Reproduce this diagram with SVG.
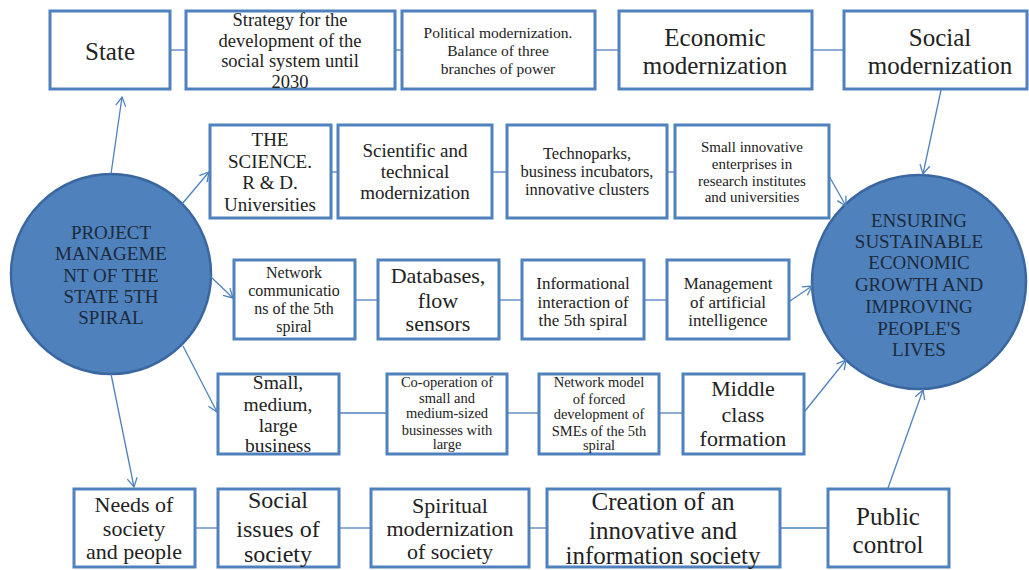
<svg xmlns="http://www.w3.org/2000/svg" width="1029" height="570" viewBox="0 0 1029 570">
<style>
.box{fill:#fff;stroke:#4F81BD;stroke-width:3}
.circ{fill:#4F81BD;stroke:#3A67A0;stroke-width:2.5}
.t{font-family:'Liberation Serif','Tinos','Times New Roman','DejaVu Serif','Noto Serif',serif;fill:#222;text-anchor:middle}
.ct{font-family:'Liberation Serif','Tinos','Times New Roman','DejaVu Serif','Noto Serif',serif;fill:#1c2a3a;text-anchor:middle;font-size:19px}
.ln{stroke:#4F81BD;stroke-width:1.3;fill:none}
.ar{stroke:#4F81BD;stroke-width:1.3;fill:none;marker-end:url(#ah)}
</style>
<defs>
<marker id="ah" markerUnits="userSpaceOnUse" markerWidth="14" markerHeight="14" refX="10" refY="6" orient="auto">
<path d="M1,1 L10,6 L1,11" fill="none" stroke="#4F81BD" stroke-width="1.3"/>
</marker>
</defs>

<g id="n-state"><rect class="box" x="50" y="11" width="120" height="78"/>
<text class="t" font-size="25" x="110" y="60">State</text></g>

<g id="n-strategy"><rect class="box" x="186" y="11" width="209" height="78"/>
<text class="t" font-size="18.5" x="290" y="26">Strategy for the</text>
<text class="t" font-size="18.5" x="290" y="47">development of the</text>
<text class="t" font-size="18.5" x="290" y="67">social system until</text>
<text class="t" font-size="18.5" x="290" y="88">2030</text></g>

<g id="n-political"><rect class="box" x="402" y="11" width="193" height="78"/>
<text class="t" font-size="15.5" x="498" y="38">Political modernization.</text>
<text class="t" font-size="15.5" x="498" y="56">Balance of three</text>
<text class="t" font-size="15.5" x="498" y="74">branches of power</text></g>

<g id="n-economic"><rect class="box" x="619" y="11" width="193" height="78"/>
<text class="t" font-size="25" x="715" y="46">Economic</text>
<text class="t" font-size="25" x="715" y="74">modernization</text></g>

<g id="n-social"><rect class="box" x="844" y="11" width="183" height="78"/>
<text class="t" font-size="25" x="940" y="46">Social</text>
<text class="t" font-size="25" x="940" y="74">modernization</text></g>

<g id="n-science"><rect class="box" x="210" y="125" width="121" height="93"/>
<text class="t" font-size="19" x="270" y="146">THE</text>
<text class="t" font-size="19" x="270" y="168">SCIENCE.</text>
<text class="t" font-size="19" x="270" y="189">R &amp; D.</text>
<text class="t" font-size="19" x="270" y="211">Universities</text></g>

<g id="n-scitech"><rect class="box" x="338" y="125" width="154" height="93"/>
<text class="t" font-size="19" x="415" y="157">Scientific and</text>
<text class="t" font-size="19" x="415" y="178">technical</text>
<text class="t" font-size="19" x="415" y="199">modernization</text></g>

<g id="n-techno"><rect class="box" x="507" y="125" width="160" height="93"/>
<text class="t" font-size="16.5" x="587" y="159">Technoparks,</text>
<text class="t" font-size="16.5" x="587" y="177">business incubators,</text>
<text class="t" font-size="16.5" x="587" y="195">innovative clusters</text></g>

<g id="n-smallinnov"><rect class="box" x="675" y="125" width="154" height="93"/>
<text class="t" font-size="15" x="752" y="152">Small innovative</text>
<text class="t" font-size="15" x="752" y="169">enterprises in</text>
<text class="t" font-size="15" x="752" y="186">research institutes</text>
<text class="t" font-size="15" x="752" y="202">and universities</text></g>

<g id="n-netcomm"><rect class="box" x="234" y="260" width="121" height="79"/>
<text class="t" font-size="16" x="294" y="278">Network</text>
<text class="t" font-size="16" x="294" y="296">communicatio</text>
<text class="t" font-size="16" x="294" y="314">ns of the 5th</text>
<text class="t" font-size="16" x="294" y="332">spiral</text></g>

<g id="n-databases"><rect class="box" x="378" y="260" width="121" height="79"/>
<text class="t" font-size="22" x="438" y="283">Databases,</text>
<text class="t" font-size="22" x="438" y="308">flow</text>
<text class="t" font-size="22" x="438" y="331">sensors</text></g>

<g id="n-inform"><rect class="box" x="522" y="260" width="122" height="79"/>
<text class="t" font-size="17" x="583" y="289">Informational</text>
<text class="t" font-size="17" x="583" y="308">interaction of</text>
<text class="t" font-size="17" x="583" y="326">the 5th spiral</text></g>

<g id="n-ai"><rect class="box" x="667" y="260" width="122" height="79"/>
<text class="t" font-size="17" x="728" y="289">Management</text>
<text class="t" font-size="17" x="728" y="308">of artificial</text>
<text class="t" font-size="17" x="728" y="326">intelligence</text></g>

<g id="n-business"><rect class="box" x="218" y="374" width="121" height="80"/>
<text class="t" font-size="19.5" x="278" y="389">Small,</text>
<text class="t" font-size="19.5" x="278" y="411">medium,</text>
<text class="t" font-size="19.5" x="278" y="432">large</text>
<text class="t" font-size="19.5" x="278" y="452">business</text></g>

<g id="n-coop"><rect class="box" x="387" y="374" width="120" height="80"/>
<text class="t" font-size="14.5" x="447" y="387">Co-operation of</text>
<text class="t" font-size="14.5" x="447" y="403">small and</text>
<text class="t" font-size="14.5" x="447" y="418">medium-sized</text>
<text class="t" font-size="14.5" x="447" y="435">businesses with</text>
<text class="t" font-size="14.5" x="447" y="449">large</text></g>

<g id="n-netmodel"><rect class="box" x="539" y="374" width="120" height="80"/>
<text class="t" font-size="14.5" x="599" y="387">Network model</text>
<text class="t" font-size="14.5" x="599" y="404">of forced</text>
<text class="t" font-size="14.5" x="599" y="419">development of</text>
<text class="t" font-size="14.5" x="599" y="436">SMEs of the 5th</text>
<text class="t" font-size="14.5" x="599" y="450">spiral</text></g>

<g id="n-middle"><rect class="box" x="683" y="374" width="121" height="80"/>
<text class="t" font-size="22" x="743" y="396">Middle</text>
<text class="t" font-size="22" x="743" y="422">class</text>
<text class="t" font-size="22" x="743" y="446">formation</text></g>

<g id="n-needs"><rect class="box" x="74" y="489" width="121" height="78"/>
<text class="t" font-size="22" x="134" y="512">Needs of</text>
<text class="t" font-size="22" x="134" y="536">society</text>
<text class="t" font-size="22" x="134" y="559">and people</text></g>

<g id="n-issues"><rect class="box" x="218" y="489" width="121" height="78"/>
<text class="t" font-size="24" x="278" y="508">Social</text>
<text class="t" font-size="24" x="278" y="537">issues of</text>
<text class="t" font-size="24" x="278" y="562">society</text></g>

<g id="n-spiritual"><rect class="box" x="371" y="489" width="158" height="78"/>
<text class="t" font-size="22" x="450" y="513">Spiritual</text>
<text class="t" font-size="22" x="450" y="536">modernization</text>
<text class="t" font-size="22" x="450" y="559">of society</text></g>

<g id="n-creation"><rect class="box" x="547" y="489" width="233" height="78"/>
<text class="t" font-size="25" x="663" y="510">Creation of an</text>
<text class="t" font-size="25" x="663" y="539">innovative and</text>
<text class="t" font-size="25" x="663" y="564">information society</text></g>

<g id="n-public"><rect class="box" x="828" y="489" width="121" height="78"/>
<text class="t" font-size="25" x="888" y="525">Public</text>
<text class="t" font-size="25" x="888" y="553">control</text></g>

<g id="n-project"><circle class="circ" cx="111" cy="274" r="100"/>
<text class="ct" x="111" y="239">PROJECT</text>
<text class="ct" x="111" y="260">MANAGEME</text>
<text class="ct" x="111" y="282">NT OF THE</text>
<text class="ct" x="111" y="303">STATE 5TH</text>
<text class="ct" x="111" y="324">SPIRAL</text></g>

<g id="n-ensuring"><circle class="circ" cx="919" cy="282" r="107"/>
<text class="ct" x="919" y="227">ENSURING</text>
<text class="ct" x="919" y="248">SUSTAINABLE</text>
<text class="ct" x="919" y="269">ECONOMIC</text>
<text class="ct" x="919" y="291">GROWTH AND</text>
<text class="ct" x="919" y="313">IMPROVING</text>
<text class="ct" x="919" y="335">PEOPLE'S</text>
<text class="ct" x="919" y="356">LIVES</text></g>

<g id="connectors">
<line class="ln" x1="171" y1="50" x2="185" y2="50"/>
<line class="ln" x1="396" y1="50" x2="401" y2="50"/>
<line class="ln" x1="596" y1="50" x2="618" y2="50"/>
<line class="ln" x1="813" y1="50" x2="843" y2="50"/>
<line class="ln" x1="332" y1="172" x2="337" y2="172"/>
<line class="ln" x1="493" y1="172" x2="506" y2="172"/>
<line class="ln" x1="668" y1="172" x2="674" y2="172"/>
<line class="ln" x1="356" y1="300" x2="377" y2="300"/>
<line class="ln" x1="500" y1="300" x2="521" y2="300"/>
<line class="ln" x1="645" y1="300" x2="666" y2="300"/>
<line class="ln" x1="340" y1="413" x2="386" y2="413"/>
<line class="ln" x1="508" y1="413" x2="538" y2="413"/>
<line class="ln" x1="660" y1="413" x2="682" y2="413"/>
<line class="ln" x1="196" y1="528" x2="217" y2="528"/>
<line class="ln" x1="340" y1="528" x2="370" y2="528"/>
<line class="ln" x1="530" y1="528" x2="546" y2="528"/>
<line class="ln" x1="781" y1="528" x2="827" y2="528"/>
<path class="ar" d="M111,174 L122,97"/>
<path class="ar" d="M182,204 L209,172"/>
<path class="ar" d="M210,276 L233,298"/>
<path class="ar" d="M183,346 L217,412"/>
<path class="ar" d="M111,374 L134,487"/>
<path class="ar" d="M941,90 L923,174"/>
<path class="ar" d="M829,176 L846,206"/>
<path class="ar" d="M790,301 L812,286"/>
<path class="ar" d="M805,411 L846,360"/>
<path class="ar" d="M888,488 L923,390"/>
</g>
</svg>
